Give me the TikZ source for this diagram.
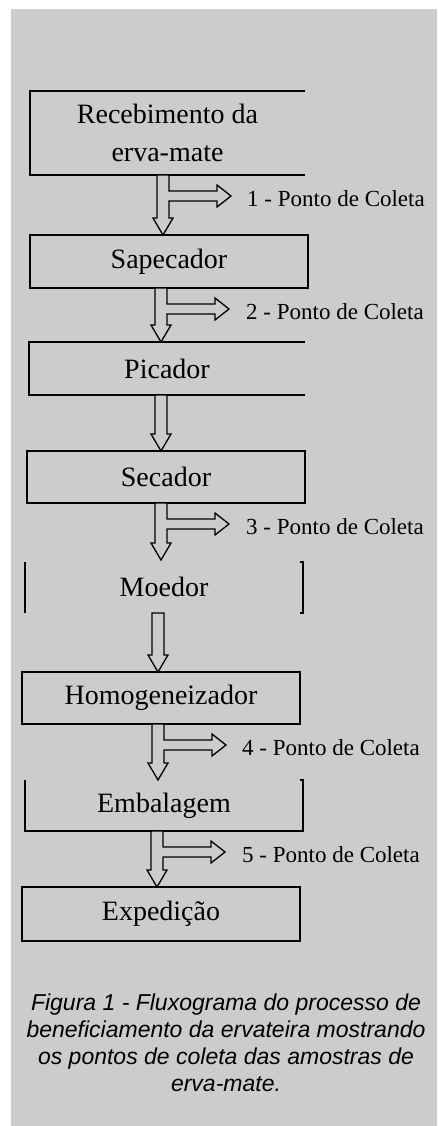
\documentclass[tikz,border=0pt]{standalone}
\usepackage{fontspec}
\setmainfont{Liberation Serif}
\newfontfamily\capfont{Liberation Sans}
\usetikzlibrary{calc}
\definecolor{bg}{HTML}{CCCCCC}
\newcommand\boxfont{\fontsize{28}{38}\selectfont}
\newcommand\labfont{\fontsize{23}{27}\selectfont}
\newcommand\captionfont{\capfont\itshape\fontsize{23}{27}\selectfont}
\newcommand\flowarr[3]{%
  \draw[flowline] let \p1=(#3 |- #1.south), \p2=(#3 |- #2.north) in
    (\x1-6pt,\y1) -- (\x1-6pt,\y2+17pt) -- (\x1-10pt,\y2+17pt) -- (\x2,\y2)
    -- (\x1+10pt,\y2+17pt) -- (\x1+6pt,\y2+17pt) -- (\x1+6pt,\y1) -- cycle;}
\newcommand\flowbranch[3]{%
  \draw[flowline] let \p1=(#3 |- #1.south), \p2=(#3 |- #2.north) in
    (\x1-6pt,\y1) -- (\x1-6pt,\y2+17pt) -- (\x1-10pt,\y2+17pt) -- (\x2,\y2)
    -- (\x1+10pt,\y2+17pt) -- (\x1+6pt,\y2+17pt) -- (\x1+6pt,\y1-26pt)
    -- (\x1+54pt,\y1-26pt) -- (\x1+54pt,\y1-32pt) -- (\x1+68pt,\y1-21pt)
    -- (\x1+54pt,\y1-10pt) -- (\x1+54pt,\y1-16pt) -- (\x1+6pt,\y1-16pt)
    -- (\x1+6pt,\y1) -- cycle;}
\tikzset{
  box/.style={rectangle, inner sep=0pt, outer sep=0pt, align=center, font=\boxfont, line width=1.4pt},
  closedbox/.style={box, draw=black},
  edge/.style={draw=black, line width=1.4pt},
  flowline/.style={draw=black, fill=bg, line width=1.3pt, line join=miter},
  lab/.style={anchor=west, inner sep=0pt, font=\labfont},
  captionnode/.style={align=center, inner sep=0pt, font=\captionfont}
}
\begin{document}
\begin{tikzpicture}[x=1pt, y=1pt]
\useasboundingbox (0,0) rectangle (437,-1126);
\fill[bg] (11,-9) rectangle (437,-1126);

\node[box, minimum width=275pt, minimum height=84pt] (b1) at (167.5,-133) {Recebimento da\\erva-mate};
\node[closedbox, minimum width=278pt, minimum height=53pt] (b2) at (169,-261.5) {Sapecador};
\node[box, minimum width=276pt, minimum height=53pt] (b3) at (167,-368.5) {Picador};
\node[closedbox, minimum width=278pt, minimum height=52pt] (b4) at (166,-477) {Secador};
\node[box, minimum width=278pt, minimum height=53pt] (b5) at (164,-586.5) {Moedor};
\node[closedbox, minimum width=278pt, minimum height=52pt] (b6) at (161,-698) {Homogeneizador};
\node[box, minimum width=278pt, minimum height=51pt] (b7) at (164,-805.5) {Embalagem};
\node[closedbox, minimum width=278pt, minimum height=54pt] (b8) at (161,-914) {Expedição};

\draw[edge] (b1.north east) -- (b1.north west) -- (b1.south west) -- (b1.south east);
\draw[edge] (b3.north east) -- (b3.north west) -- (b3.south west) -- (b3.south east);
\draw[edge] ($(b5.north west)+(0,-2)$) -- (b5.south west);
\draw[edge] ($(b5.north east)+(-3,-2)$) -- ++(3,0) -- (b5.south east) -- ++(-3,0);
\draw[edge] (b7.north west) -- (b7.south west) -- (b7.south east) -- (b7.north east) -- ++(-3,0);

\coordinate (ax1) at (163,0);
\coordinate (ax2) at (161,0);
\coordinate (ax3) at (161,0);
\coordinate (ax4) at (161,0);
\coordinate (ax5) at (158,0);
\coordinate (ax6) at (158,0);
\coordinate (ax7) at (157,0);

\flowbranch{b1}{b2}{ax1}
\flowbranch{b2}{b3}{ax2}
\flowarr{b3}{b4}{ax3}
\flowbranch{b4}{b5}{ax4}
\flowarr{b5}{b6}{ax5}
\flowbranch{b6}{b7}{ax6}
\flowbranch{b7}{b8}{ax7}

\node[lab] (l1) at (247,-199) {1 - Ponto de Coleta};
\node[lab] (l2) at (246,-312) {2 - Ponto de Coleta};
\node[lab] (l3) at (246,-527) {3 - Ponto de Coleta};
\node[lab] (l4) at (242,-748) {4 - Ponto de Coleta};
\node[lab] (l5) at (242,-855) {5 - Ponto de Coleta};

\node[captionnode] (cap) at (226,-1043) {Figura 1 - Fluxograma do processo de\\beneficiamento da ervateira mostrando\\os pontos de coleta das amostras de\\erva-mate.};
\end{tikzpicture}
\end{document}
